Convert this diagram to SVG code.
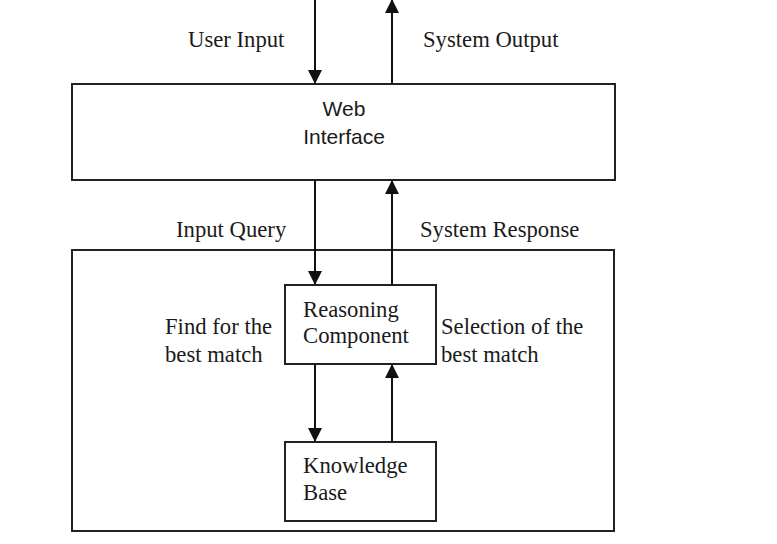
<svg xmlns="http://www.w3.org/2000/svg" width="777" height="544" viewBox="0 0 777 544">
  <defs>
    <marker id="arr" markerUnits="userSpaceOnUse" markerWidth="14" markerHeight="14" viewBox="0 0 14 14" refX="13" refY="7" orient="auto">
      <path d="M0,0 L14,7 L0,14 Z" fill="#111"/>
    </marker>
  </defs>
  <style>
    .box { fill: #fff; stroke: #222; stroke-width: 2; }
    .conn { stroke: #111; stroke-width: 2; fill: none; }
    .serif { font-family: "Liberation Serif", "Times New Roman", serif; font-size: 22.7px; fill: #1a1a1a; }
    .sans { font-family: "Liberation Sans", Arial, sans-serif; font-size: 21px; fill: #1a1a1a; }
  </style>
  <rect width="777" height="544" fill="#fff"/>

  <g id="outer">
    <rect class="box" x="72" y="250" width="542" height="281"/>
  </g>

  <g id="web-interface">
    <rect class="box" x="72" y="84" width="543" height="96"/>
    <text class="sans" x="344" y="116" text-anchor="middle">Web</text>
    <text class="sans" x="344" y="144" text-anchor="middle">Interface</text>
  </g>

  <g id="reasoning-component">
    <rect class="box" x="285" y="285" width="151" height="79"/>
    <text class="serif" x="303" y="317">Reasoning</text>
    <text class="serif" x="303" y="343">Component</text>
  </g>

  <g id="knowledge-base">
    <rect class="box" x="285" y="442" width="151" height="79"/>
    <text class="serif" x="303" y="473">Knowledge</text>
    <text class="serif" x="303" y="500">Base</text>
  </g>

  <g id="connectors">
    <line class="conn" x1="315" y1="0" x2="315" y2="83" marker-end="url(#arr)"/>
    <line class="conn" x1="392" y1="84" x2="392" y2="0" marker-end="url(#arr)"/>
    <line class="conn" x1="315" y1="180" x2="315" y2="284" marker-end="url(#arr)"/>
    <line class="conn" x1="392" y1="285" x2="392" y2="181" marker-end="url(#arr)"/>
    <line class="conn" x1="315" y1="364" x2="315" y2="441" marker-end="url(#arr)"/>
    <line class="conn" x1="392" y1="442" x2="392" y2="365" marker-end="url(#arr)"/>
  </g>

  <g id="labels">
    <text class="serif" x="188" y="47">User Input</text>
    <text class="serif" x="423" y="47">System Output</text>
    <text class="serif" x="176" y="237">Input Query</text>
    <text class="serif" x="420" y="237">System Response</text>
    <text class="serif" x="165" y="334">Find for the</text>
    <text class="serif" x="165" y="362">best match</text>
    <text class="serif" x="441" y="334">Selection of the</text>
    <text class="serif" x="441" y="362">best match</text>
  </g>
</svg>
